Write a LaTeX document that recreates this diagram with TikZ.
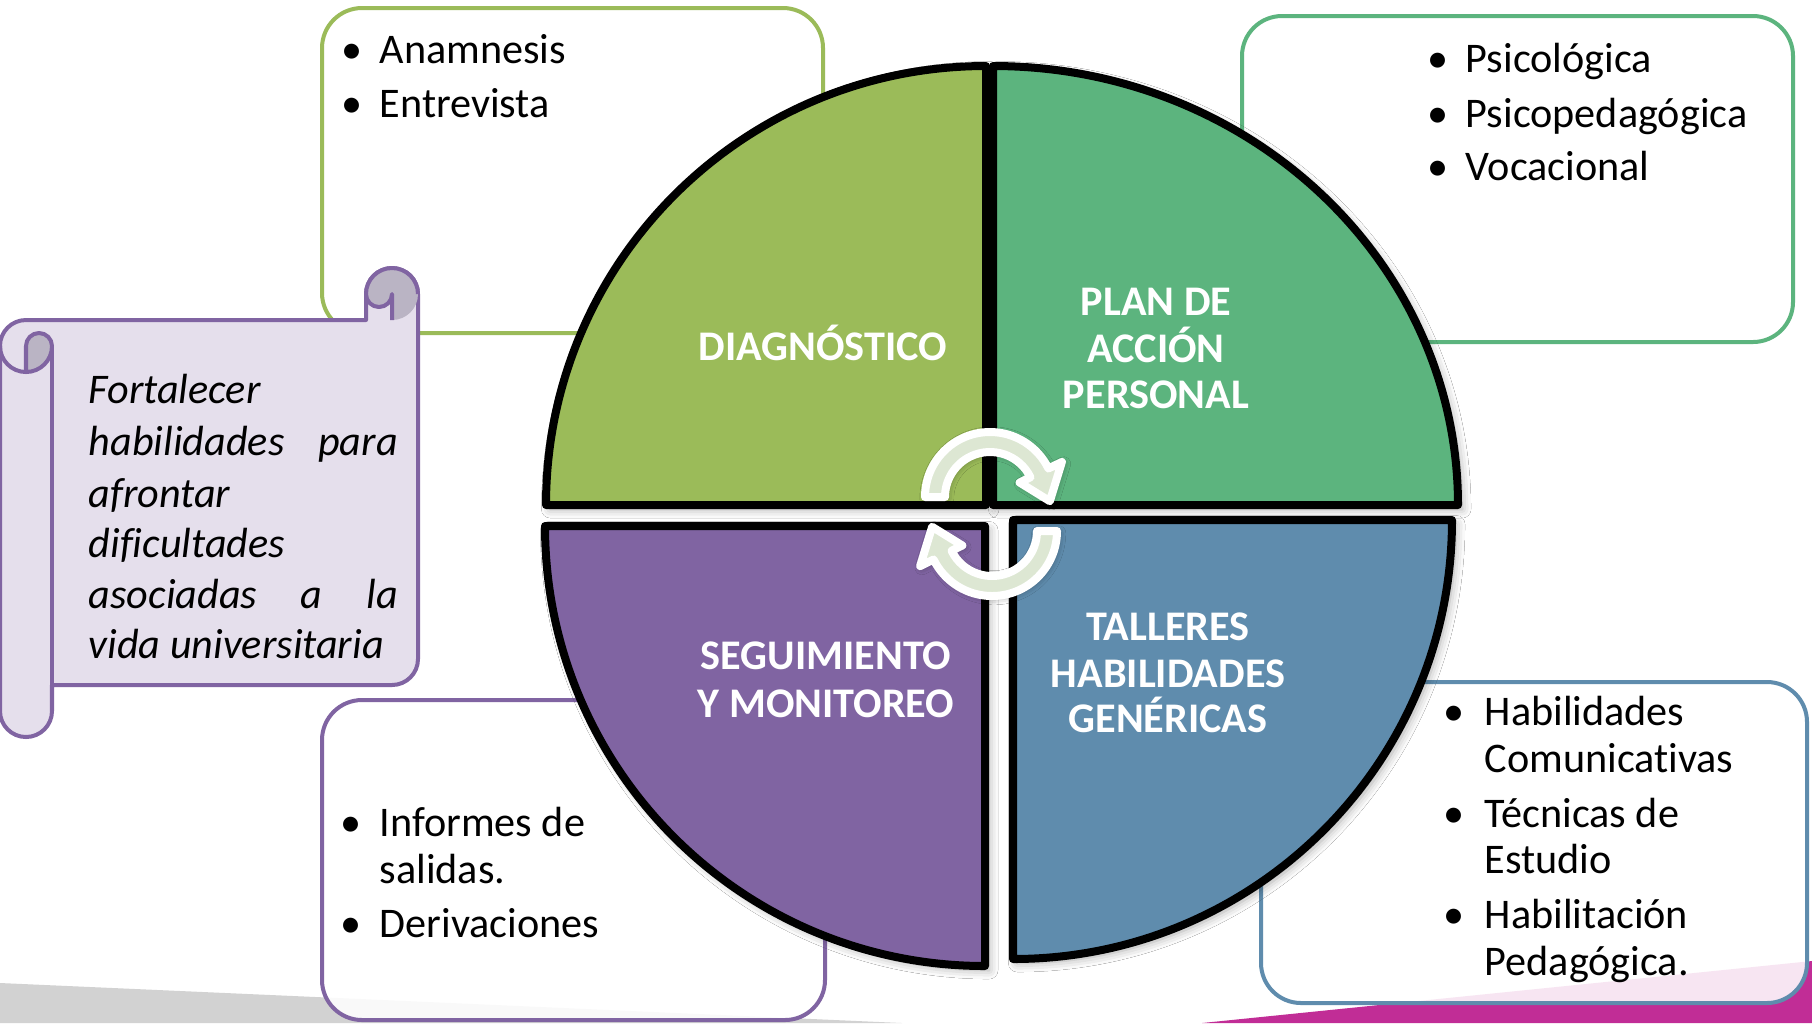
\documentclass[tikz,border=0pt]{standalone}
\usepackage{fontspec}
\setmainfont[Ligatures=NoCommon]{Carlito}
\usetikzlibrary{shadows.blur}
\definecolor{gA}{RGB}{155,187,89}
\definecolor{gB}{RGB}{92,180,126}
\definecolor{pu}{RGB}{128,100,162}
\definecolor{bl}{RGB}{95,140,173}
\definecolor{lav}{RGB}{229,223,236}
\definecolor{lavd}{RGB}{186,180,196}
\definecolor{arr}{RGB}{221,231,211}
\definecolor{mag}{RGB}{193,45,150}
\definecolor{bgg}{RGB}{210,210,210}
\newcommand{\bitem}[5]{%
  \node[bdot] (#1d) at (#2,#4) {•};
  \node[btxt] (#1) at (#3,#4) {#5};}
\begin{document}
\begin{tikzpicture}[x=0.01cm,y=-0.01cm,
  box/.style={rounded corners=0.4cm, line width=0.04cm, fill=white, fill opacity=0.88},
  pie/.style={draw=black, line width=0.08cm, line join=round,
    blur shadow={shadow xshift=1.2pt, shadow yshift=-1.2pt, shadow blur radius=2.5pt, shadow opacity=35}},
  arrowst/.style={fill=arr, draw=white, line width=0.08cm, line join=round,
    blur shadow={shadow xshift=0.5pt, shadow yshift=-0.5pt, shadow blur radius=2pt, shadow opacity=40}},
  lbl/.style={text=white, font=\fontsize{12}{14}\selectfont\bfseries, inner sep=0pt, anchor=base},
  btxt/.style={font=\fontsize{12}{14}\selectfont, inner sep=0pt, anchor=base west},
  bdot/.style={font=\fontsize{12}{14}\selectfont, inner sep=0pt, anchor=base},
  stxt/.style={font=\fontsize{12}{14}\selectfont\itshape, inner sep=0pt, anchor=base west},
  scr/.style={draw=pu, line width=0.04cm, line join=round}
]
\useasboundingbox (0,0) rectangle (1812,1023);
\fill[white] (0,0) rectangle (1812,1023);
% background bands
\fill[bgg] (0,983) -- (902,1023) -- (0,1023) -- cycle;
\fill[mag] (1202,1023) -- (1812,961) -- (1812,1023) -- cycle;

% boxes
\path[box, draw=gA] (322,8) rectangle (823,333);
\path[box, draw=gB] (1242,16) rectangle (1793,342);
\path[box, draw=pu] (322,700) rectangle (825,1020);
\path[box, draw=bl] (1261,682) rectangle (1807,1003);

% scroll
\path[scr, fill=lav] (26,320) -- (366,320) -- (366,294)
  arc[start angle=180, end angle=360, radius=26] -- (418,659)
  arc[start angle=0, end angle=90, radius=26] -- (52,685) -- (52,711)
  arc[start angle=0, end angle=180, radius=26] -- (0,346)
  arc[start angle=180, end angle=270, radius=26] -- cycle;
\path[scr, fill=lavd] (26,346) arc[start angle=180, end angle=360, radius=13]
  arc[start angle=0, end angle=90, radius=26] -- cycle;
\draw[scr] (0,346) arc[start angle=180, end angle=90, radius=26];
\draw[scr] (52,346) -- (52,685);
\fill[lavd] (366,294) arc[start angle=180, end angle=360, radius=26]
  arc[start angle=0, end angle=90, radius=26] -- (392,294)
  arc[start angle=0, end angle=180, radius=13] -- cycle;
\draw[scr] (366,294) arc[start angle=180, end angle=360, radius=26];
\draw[scr] (366,294) arc[start angle=180, end angle=0, radius=13] -- (392,320);

\node[stxt] (s1) at (88,403) {Fortalecer};
\node[stxt] (s2) at (88,455) {\makebox[3.09cm][l]{habilidades\hfill para}};
\node[stxt] (s3) at (88,507) {afrontar};
\node[stxt] (s4) at (88,557) {dificultades};
\node[stxt] (s5) at (88,608) {\makebox[3.09cm][l]{asociadas\hfill a\hfill la}};
\node[stxt] (s6) at (88,658) {vida universitaria};

% pie pieces
\path[pie, fill=gA] (986,505) -- (546,505) arc[start angle=180, end angle=270, x radius=440, y radius=439] -- cycle;
\path[pie, fill=gB] (993,505) -- (993,66) arc[start angle=270, end angle=360, x radius=465, y radius=439] -- cycle;
\path[pie, fill=pu] (985,526) -- (985,966) arc[start angle=90, end angle=180, radius=440] -- cycle;
\path[pie, fill=bl] (1013,520) -- (1452,520) arc[start angle=0, end angle=90, radius=439] -- cycle;

% circular arrows
\begin{scope}[shift={(990,497)}, yscale=-1]
\path[arrowst] (180:65) arc[start angle=180, end angle=26, radius=65]
  -- (26:80) -- (-4:60) -- (26:33) -- (26:45)
  arc[start angle=26, end angle=180, radius=45] -- cycle;
\end{scope}
\begin{scope}[shift={(992,531)}, yscale=-1, rotate=180]
\path[arrowst] (180:65) arc[start angle=180, end angle=26, radius=65]
  -- (26:80) -- (-4:60) -- (26:33) -- (26:45)
  arc[start angle=26, end angle=180, radius=45] -- cycle;
\end{scope}

% pie labels
\node[lbl] (d1) at (823,360) {DIAGNÓSTICO};
\node[lbl] (p1) at (1156,315) {PLAN DE};
\node[lbl] (p2) at (1156,362) {ACCIÓN};
\node[lbl] (p3) at (1156,408) {PERSONAL};
\node[lbl] (t1) at (1168,640) {TALLERES};
\node[lbl] (t2) at (1168,687) {HABILIDADES};
\node[lbl] (t3) at (1168,732) {GENÉRICAS};
\node[lbl] (m1) at (826,669) {SEGUIMIENTO};
\node[lbl] (m2) at (826,717) {Y MONITOREO};

% bullet lists
\bitem{a1}{352}{379}{63}{Anamnesis}
\bitem{a2}{352}{379}{117}{Entrevista}
\bitem{b1}{1438}{1465}{72}{Psicológica}
\bitem{b2}{1438}{1465}{127}{Psicopedagógica}
\bitem{b3}{1438}{1465}{180}{Vocacional}
\bitem{c1}{351}{379}{836}{Informes de}
\node[btxt] (c1b) at (379,883) {salidas.};
\bitem{c2}{351}{379}{937}{Derivaciones}
\bitem{e1}{1454}{1484}{725}{Habilidades}
\node[btxt] (e1b) at (1484,772) {Comunicativas};
\bitem{e2}{1454}{1484}{827}{Técnicas de}
\node[btxt] (e2b) at (1484,873) {Estudio};
\bitem{e3}{1454}{1484}{928}{Habilitación}
\node[btxt] (e3b) at (1484,975) {Pedagógica.};
\end{tikzpicture}
\end{document}
